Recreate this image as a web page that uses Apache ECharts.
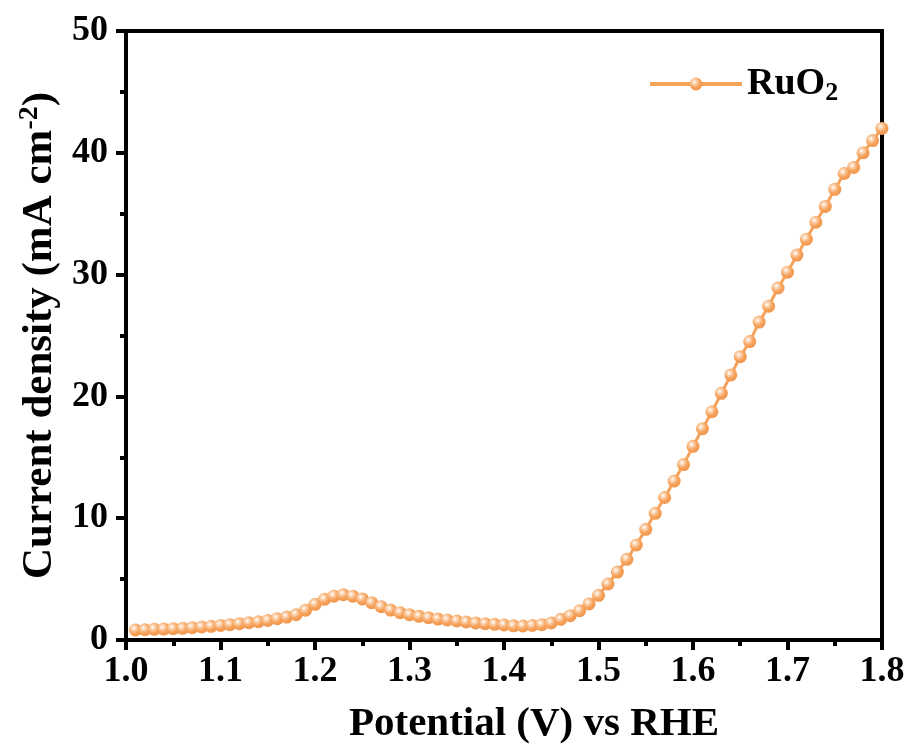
<!DOCTYPE html>
<html>
<head>
<meta charset="utf-8">
<script src="https://cdn.jsdelivr.net/npm/echarts@6/dist/echarts.min.js"></script>
<style>
html,body{margin:0;padding:0;background:#fff;}
#chart{width:912px;height:751px;}
</style>
</head>
<body>
<div id="chart"></div>
<script>
// Data
var potential = [1.01,1.02,1.03,1.04,1.05,1.06,1.07,1.08,1.09,1.10,
  1.11,1.12,1.13,1.14,1.15,1.16,1.17,1.18,1.19,1.20,
  1.21,1.22,1.23,1.24,1.25,1.26,1.27,1.28,1.29,1.30,
  1.31,1.32,1.33,1.34,1.35,1.36,1.37,1.38,1.39,1.40,
  1.41,1.42,1.43,1.44,1.45,1.46,1.47,1.48,1.49,1.50,
  1.51,1.52,1.53,1.54,1.55,1.56,1.57,1.58,1.59,1.60,
  1.61,1.62,1.63,1.64,1.65,1.66,1.67,1.68,1.69,1.70,
  1.71,1.72,1.73,1.74,1.75,1.76,1.77,1.78,1.79,1.80];
var currentRuO2 = [0.82,0.85,0.88,0.90,0.93,0.96,1.01,1.07,1.12,1.20,
  1.26,1.34,1.42,1.50,1.61,1.75,1.88,2.08,2.45,2.93,
  3.34,3.60,3.72,3.60,3.37,3.06,2.73,2.46,2.24,2.08,
  1.94,1.83,1.72,1.64,1.56,1.48,1.40,1.34,1.29,1.23,
  1.16,1.15,1.19,1.26,1.40,1.70,2.00,2.40,2.96,3.67,
  4.60,5.58,6.62,7.80,9.09,10.4,11.7,13.05,14.4,15.9,
  17.35,18.74,20.25,21.76,23.26,24.5,26.1,27.4,28.9,30.2,
  31.6,32.9,34.3,35.6,37.0,38.3,38.8,40.0,41.0,42.0];
var xTicks = {min: 1.0, max: 1.8, interval: 0.1};
var yTicks = {min: 0, max: 50, interval: 10};
var seriesName = 'RuO2';

var pts = potential.map(function (v, i) { return [v, currentRuO2[i]]; });
var FONT = 'Liberation Serif';
var orange = '#F5A25B';
var markerFill = {
  type: 'radial', x: 0.38, y: 0.35, r: 0.7,
  colorStops: [
    {offset: 0, color: '#FFFFFF'},
    {offset: 0.25, color: '#FBD2AE'},
    {offset: 0.6, color: '#F6A25B'},
    {offset: 1, color: '#F0944A'}
  ]
};

var chart = echarts.init(document.getElementById('chart'), null, {renderer: 'canvas'});
chart.setOption({
  backgroundColor: '#fff',
  animation: false,
  grid: {left: 126, right: 30, top: 31, bottom: 111, show: true, borderColor: '#000', borderWidth: 4,
    containLabel: false, outerBoundsMode: 'none'},
  legend: {
    left: 643, top: 60,
    itemWidth: 92, itemHeight: 16,
    data: [seriesName],
    lineStyle: {width: 4},
    formatter: function () { return '{b|RuO}{s|2}'; },
    textStyle: {
      rich: {
        b: {fontFamily: FONT, fontWeight: 'bold', fontSize: 38, color: '#000'},
        s: {fontFamily: FONT, fontWeight: 'bold', fontSize: 26, color: '#000', padding: [18, 0, 0, 0]}
      }
    }
  },
  xAxis: {
    type: 'value', min: xTicks.min, max: xTicks.max, interval: xTicks.interval,
    name: 'Potential (V) vs RHE', nameLocation: 'middle', nameGap: 64,
    nameTextStyle: {fontFamily: FONT, fontWeight: 'bold', fontSize: 41, color: '#000', padding: [0, 0, 0, 60]},
    axisLine: {show: true, lineStyle: {color: '#000', width: 4}},
    axisTick: {show: true, inside: false, length: 10, lineStyle: {color: '#000', width: 4}},
    minorTick: {show: true, splitNumber: 2, length: 6, lineStyle: {color: '#000', width: 4}},
    splitLine: {show: false},
    axisLabel: {fontFamily: FONT, fontWeight: 'bold', fontSize: 36, color: '#000', margin: 14,
      formatter: function (v) { return v.toFixed(1); }}
  },
  yAxis: {
    type: 'value', min: yTicks.min, max: yTicks.max, interval: yTicks.interval,
    name: '{t|Current density (mA cm}{s|-2}{t|)}', nameLocation: 'middle', nameGap: 54, nameRotate: 90,
    nameTextStyle: {
      rich: {
        t: {fontFamily: FONT, fontWeight: 'bold', fontSize: 43, color: '#000', lineHeight: 47},
        s: {fontFamily: FONT, fontWeight: 'bold', fontSize: 28, color: '#000', verticalAlign: 'top', padding: [0, 0, 18, 0]}
      }
    },
    axisLine: {show: true, lineStyle: {color: '#000', width: 4}},
    axisTick: {show: true, inside: false, length: 10, lineStyle: {color: '#000', width: 4}},
    minorTick: {show: true, splitNumber: 2, length: 6, lineStyle: {color: '#000', width: 4}},
    splitLine: {show: false},
    axisLabel: {fontFamily: FONT, fontWeight: 'bold', fontSize: 36, color: '#000', margin: 18}
  },
  series: [{
    name: seriesName,
    type: 'line',
    data: pts,
    symbol: 'circle',
    symbolSize: 13,
    showAllSymbol: true,
    lineStyle: {color: orange, width: 3},
    itemStyle: {color: markerFill, borderWidth: 0},
    clip: false,
    z: 3
  }]
});
</script>
</body>
</html>
